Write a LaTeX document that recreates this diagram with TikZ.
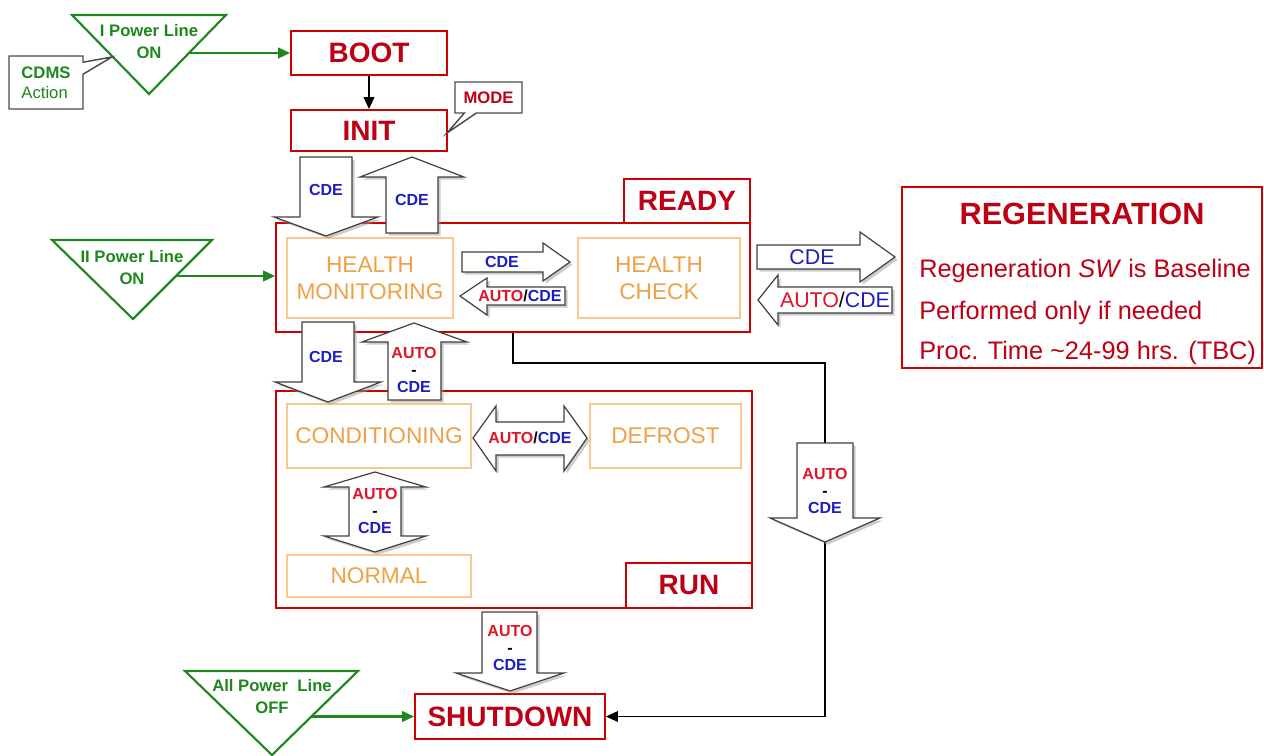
\documentclass[tikz,border=0pt]{standalone}
\usepackage{fontspec}
\setmainfont{Liberation Sans}
\usetikzlibrary{arrows.meta,shapes.callouts,shadows}
\definecolor{boxred}{RGB}{204,0,0}
\definecolor{txtred}{RGB}{190,0,20}
\definecolor{autored}{RGB}{225,20,40}
\definecolor{cdeblue}{RGB}{30,30,190}
\definecolor{grn}{RGB}{30,135,30}
\definecolor{orgline}{RGB}{250,200,140}
\definecolor{orgtxt}{RGB}{240,160,70}
\begin{document}
\begin{tikzpicture}[x=.75pt,y=-.75pt,line join=miter,>={Triangle[length=9pt,width=8pt]}]
	\tikzset{redbox/.style={draw=boxred,line width=1.4pt,fill=white,text=txtred,font=\bfseries\fontsize{21}{24}\selectfont,inner sep=0pt},
		orgbox/.style={draw=orgline,line width=1pt,text=orgtxt,font=\fontsize{17}{20.25}\selectfont,align=center,inner sep=0pt},
		grtri/.style={draw=grn,line width=1.6pt},
		grtxt/.style={text=grn,font=\bfseries\fontsize{12.5}{16.5}\selectfont,align=center,inner sep=0pt},
		grarr/.style={draw=grn,line width=1.6pt,->},
		blkarr/.style={draw=black!75,line width=.9pt,fill=white,drop shadow={shadow xshift=2pt,shadow yshift=-2pt,fill=black!40,opacity=.5}},
		blab/.style={font=\bfseries\fontsize{12}{12.75}\selectfont,align=center,inner sep=0pt},
		bigblab/.style={font=\fontsize{16}{18}\selectfont,inner sep=0pt},
		regline/.style={text=txtred,font=\fontsize{19}{22}\selectfont,inner sep=0pt,anchor=base west},
		note/.style={rectangle callout,draw=black!70,line width=1.1pt,fill=white,callout pointer width=9pt,inner sep=0pt}
	}
	\useasboundingbox (0,0) rectangle (1264,756);
	\draw[grtri] (72,15) -- (226,15) -- (149,94) -- cycle;
	\node[grtxt] (pwr1) at (149,42) {I Power Line\\ON};
	\draw[grtri] (52,240) -- (212,240) -- (133,319) -- cycle;
	\node[grtxt] (pwr2) at (132,267.5) {II Power Line\\ON};
	\draw[grtri] (185,671) -- (358,671) -- (272,755) -- cycle;
	\node[grtxt] (pwr3) at (272,696.5) {All Power~ Line\\OFF};
	\coordinate (cdmstip) at (112,57);
	\coordinate (modetip) at (447,133);
	\node[note,minimum width=55.5pt,minimum height=39.75pt,callout absolute pointer={(cdmstip)},text=grn,align=left,font=\fontsize{12.5}{15}\selectfont] (cdms) at (46,82.5) {\textbf{CDMS}\\Action};
	\node[redbox,minimum width=117pt,minimum height=33pt] (boot) at (369,53) {BOOT};
	\node[redbox,minimum width=117pt,minimum height=30.75pt] (init) at (369,130.5) {INIT};
	\node[note,minimum width=50.25pt,minimum height=23.25pt,callout absolute pointer={(modetip)},text=txtred,font=\bfseries\fontsize{12.5}{14}\selectfont] (mode) at (488.5,97.5) {MODE};
	\draw[line width=1.2pt,->] (boot) -- (init);
	\node[redbox,minimum width=355.5pt,minimum height=81.75pt] (ready) at (513,277.5) {};
	\node[redbox,minimum width=94.5pt,minimum height=33pt] (readytab) at (687,201) {READY};
	\node[orgbox,minimum width=124.5pt,minimum height=60pt] (health) at (370,278) {HEALTH\\MONITORING};
	\node[orgbox,minimum width=121.5pt,minimum height=60pt] (check) at (659,278) {HEALTH\\CHECK};
	\node[redbox,minimum width=270pt,minimum height=135.75pt] (regen) at (1082,277.5) {};
	\node[text=txtred,font=\bfseries\fontsize{23}{26}\selectfont,inner sep=0pt] (regtitle) at (1082,214) {REGENERATION};
	\node[regline] (reg1) at (919,277) {Regeneration \textit{SW} is Baseline};
	\node[regline] (reg2) at (919,319) {Performed only if needed};
	\node[regline] (reg3) at (919,359) {Proc. Time \textasciitilde24-99 hrs. (TBC)};
	\node[redbox,minimum width=357pt,minimum height=162.75pt] (run) at (514,499.5) {};
	\node[redbox,minimum width=94.5pt,minimum height=33.75pt] (runtab) at (689,585.5) {RUN};
	\node[orgbox,minimum width=138pt,minimum height=48pt] (cond) at (379,436) {CONDITIONING};
	\node[orgbox,minimum width=113.25pt,minimum height=48pt] (defrost) at (665.5,436) {DEFROST};
	\node[orgbox,minimum width=138pt,minimum height=31.5pt] (normal) at (379,576) {NORMAL};
	\node[redbox,minimum width=142.5pt,minimum height=33.75pt] (shutdown) at (510,716.5) {SHUTDOWN};
	\coordinate (pwr1out) at (189,53);
	\coordinate (pwr2out) at (176,276);
	\coordinate (pwr3out) at (311,716.5);
	\draw[grarr] (pwr1out) -- (boot.west);
	\draw[grarr] (pwr2out) -- (pwr2out -| ready.west);
	\draw[grarr] (pwr3out) -- (shutdown.west);
	\coordinate (bend) at (825,363);
	\draw[line width=1.1pt,->] (ready.south) |- (bend) |- (shutdown.east);
	\draw[blkarr] (300,157) -- (352,157) -- (352,217) -- (378,217) -- (326,236) -- (274,217) -- (300,217) -- cycle;
	\node[blab,text=cdeblue] (cde1) at (326,190) {CDE};
	\draw[blkarr] (412,157) -- (464,177) -- (438,177) -- (438,233) -- (386,233) -- (386,177) -- (360,177) -- cycle;
	\node[blab,text=cdeblue] (cde2) at (412,200) {CDE};
	\draw[blkarr] (462,252) -- (543,252) -- (543,243) -- (570,262) -- (543,281) -- (543,272) -- (462,272) -- cycle;
	\node[blab,text=cdeblue] (cde3) at (502,262) {CDE};
	\draw[blkarr] (460,296) -- (487,278) -- (487,287) -- (565,287) -- (565,305) -- (487,305) -- (487,315) -- cycle;
	\node[blab] (ac1) at (520,296) {\textcolor{autored}{AUTO}/\textcolor{cdeblue}{CDE}};
	\draw[blkarr] (757,245) -- (860,245) -- (860,232) -- (895,257) -- (860,282) -- (860,269) -- (757,269) -- cycle;
	\node[bigblab,text=cdeblue] (cde4) at (812,257) {CDE};
	\draw[blkarr] (758,300) -- (778,275) -- (778,287) -- (892,287) -- (892,313) -- (778,313) -- (778,325) -- cycle;
	\node[bigblab] (ac2) at (835,300) {\textcolor{autored}{AUTO}/\textcolor{cdeblue}{CDE}};
	\draw[blkarr] (302,322) -- (354,322) -- (354,382) -- (381,382) -- (328,402) -- (275,382) -- (302,382) -- cycle;
	\node[blab,text=cdeblue] (cde5) at (326,357) {CDE};
	\draw[blkarr] (414,323) -- (467,342) -- (441,342) -- (441,400) -- (388,400) -- (388,342) -- (362,342) -- cycle;
	\node[blab] (ac3) at (414,370) {\textcolor{autored}{AUTO}\\-\\\textcolor{cdeblue}{CDE}};
	\draw[blkarr] (473,438) -- (496,406) -- (496,422) -- (564,422) -- (564,406) -- (587,438) -- (564,471) -- (564,455) -- (496,455) -- (496,471) -- cycle;
	\node[blab] (ac4) at (530,438) {\textcolor{autored}{AUTO}/\textcolor{cdeblue}{CDE}};
	\draw[blkarr] (375,472) -- (426,487) -- (401,487) -- (401,536) -- (426,536) -- (375,552) -- (324,536) -- (349,536) -- (349,487) -- (324,487) -- cycle;
	\node[blab] (ac5) at (375,510.5) {\textcolor{autored}{AUTO}\\-\\\textcolor{cdeblue}{CDE}};
	\draw[blkarr] (797,443) -- (853,443) -- (853,518) -- (880,518) -- (825,542) -- (770,518) -- (797,518) -- cycle;
	\node[blab] (ac6) at (825,490.5) {\textcolor{autored}{AUTO}\\-\\\textcolor{cdeblue}{CDE}};
	\draw[blkarr] (482,612) -- (537,612) -- (537,673) -- (564,673) -- (510,691) -- (456,673) -- (482,673) -- cycle;
	\node[blab] (ac7) at (510,647.5) {\textcolor{autored}{AUTO}\\-\\\textcolor{cdeblue}{CDE}};
\end{tikzpicture}
\end{document}
